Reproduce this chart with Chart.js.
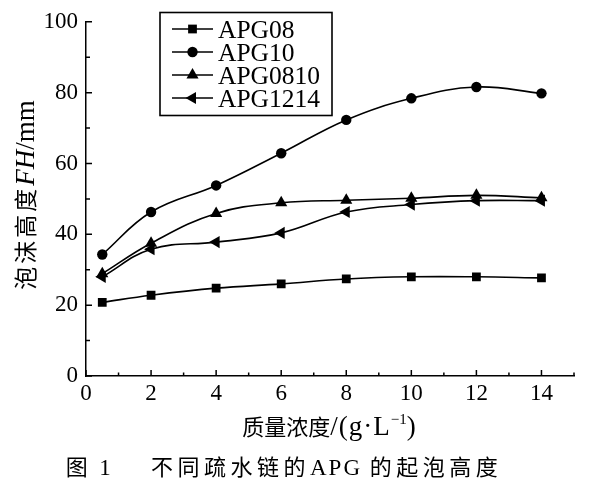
<!DOCTYPE html>
<html>
<head>
<meta charset="utf-8">
<script src="https://cdn.jsdelivr.net/npm/chart.js@4.4.1/dist/chart.umd.min.js"></script>
<style>
  html, body { margin: 0; padding: 0; background: #fff; }
  #wrap { width: 590px; height: 488px; position: relative; }
</style>
</head>
<body>
<div id="wrap"><canvas id="foam"></canvas></div>
<script>
// ─── Data ───────────────────────────────────────────────────────
const concentration = [0.5, 2, 4, 6, 8, 10, 12, 14];
const apg08   = [20.8, 22.8, 24.8, 26.0, 27.4, 28.0, 28.0, 27.7];
const apg10   = [34.3, 46.3, 53.8, 62.9, 72.3, 78.4, 81.6, 79.8];
const apg0810 = [28.9, 37.5, 45.9, 48.9, 49.6, 50.2, 51.0, 50.3];
const apg1214 = [28.0, 35.8, 37.8, 40.4, 46.3, 48.4, 49.5, 49.5];
const seriesNames = ["APG08", "APG10", "APG0810", "APG1214"];
const xRange = [0, 15];
const yRange = [0, 100];

const SERIF = '"Liberation Serif", "DejaVu Serif", serif';
const CJK = '"Noto Sans CJK SC", sans-serif';

const markers = [
  { pointStyle: "rect", radius: 6.2, rotation: 0 },
  { pointStyle: "circle", radius: 5.2, rotation: 0 },
  { pointStyle: "triangle", radius: 7, rotation: 0 },
  { pointStyle: "triangle", radius: 7, rotation: -90 },
];

const toPoints = (ys) => concentration.map((x, i) => ({ x, y: ys[i] }));

const datasets = [apg08, apg10, apg0810, apg1214].map((ys, i) => ({
  label: seriesNames[i],
  data: toPoints(ys),
  borderColor: "#000",
  backgroundColor: "#000",
  borderWidth: 1.6,
  tension: 0.4,
  pointStyle: markers[i].pointStyle,
  pointRadius: markers[i].radius,
  pointRotation: markers[i].rotation,
  pointBorderWidth: 0,
}));

// ─── Helpers ────────────────────────────────────────────────────
function drawRuns(ctx, runs, cx, baseline) {
  let total = 0;
  runs.forEach(r => {
    ctx.font = r.font;
    ctx.letterSpacing = (r.ls || 0) + "px";
    r.w = ctx.measureText(r.text).width;
    total += r.w;
  });
  let x = cx - total / 2;
  runs.forEach(r => {
    ctx.font = r.font;
    ctx.letterSpacing = (r.ls || 0) + "px";
    ctx.fillText(r.text, x, baseline + (r.dy || 0));
    x += r.w;
  });
  ctx.letterSpacing = "0px";
}

function marker(ctx, m, x, y) {
  if (Chart.helpers && Chart.helpers.drawPoint) {
    ctx.fillStyle = "#000";
    ctx.strokeStyle = "#000";
    ctx.lineWidth = 0;
    Chart.helpers.drawPoint(ctx, { pointStyle: m.pointStyle, radius: m.radius, rotation: m.rotation, borderWidth: 0 }, x, y);
  }
}

// ─── Plugin: inward ticks, legend, titles, caption ──────────────
const decorations = {
  id: "decorations",
  afterDatasetsDraw(chart) {
    const { ctx, chartArea: a, scales: { x, y } } = chart;
    ctx.save();
    ctx.strokeStyle = "#000";
    ctx.lineWidth = 1.5;

    // inward ticks
    ctx.beginPath();
    x.ticks.forEach(t => {
      const px = x.getPixelForValue(t.value);
      const len = t.value % 2 === 0 ? 6 : 3.5;
      ctx.moveTo(px, a.bottom);
      ctx.lineTo(px, a.bottom - len);
    });
    y.ticks.forEach(t => {
      const py = y.getPixelForValue(t.value);
      const len = t.value % 20 === 0 ? 6 : 4;
      ctx.moveTo(a.left, py);
      ctx.lineTo(a.left + len, py);
    });
    ctx.stroke();

    // legend box
    const box = { l: 160, t: 12.5, r: 332, b: 115.5 };
    ctx.lineWidth = 1.6;
    ctx.strokeRect(box.l, box.t, box.r - box.l, box.b - box.t);
    const rowY = [29, 52, 75, 98];
    ctx.fillStyle = "#000";
    ctx.textBaseline = "alphabetic";
    ctx.textAlign = "left";
    chart.data.datasets.forEach((ds, i) => {
      const yy = rowY[i];
      ctx.lineWidth = 1.6;
      ctx.beginPath();
      ctx.moveTo(172, yy);
      ctx.lineTo(213, yy);
      ctx.stroke();
      marker(ctx, markers[i], 192.5, yy);
      ctx.fillStyle = "#000";
      ctx.font = `25.5px ${SERIF}`;
      ctx.fillText(ds.label, 218, yy + 8.5);
    });

    // x title
    ctx.fillStyle = "#000";
    drawRuns(ctx, [
      { text: "质量浓度", font: `22px ${CJK}` },
      { text: "/(g·L", font: `27px ${SERIF}`, ls: 1 },
      { text: "−1", font: `15px ${SERIF}`, dy: -11 },
      { text: ")", font: `27px ${SERIF}` },
    ], 329, 435);

    // y title (rotated)
    ctx.save();
    ctx.translate(34, 195);
    ctx.rotate(-Math.PI / 2);
    drawRuns(ctx, [
      { text: "泡沫高度", font: `23px ${CJK}`, ls: 3 },
      { text: "FH", font: `italic 27px ${SERIF}` },
      { text: "/mm", font: `27px ${SERIF}` },
    ], 0, 0);
    ctx.restore();

    // caption
    drawRuns(ctx, [
      { text: "图", font: `22px ${CJK}` },
      { text: "  1", font: `23px ${SERIF}` },
      { text: "       ", font: `23px ${SERIF}` },
      { text: "不同疏水链的", font: `22px ${CJK}`, ls: 4.5 },
      { text: "APG ", font: `23px ${SERIF}`, ls: 2 },
      { text: "的起泡高度", font: `22px ${CJK}`, ls: 4.5 },
    ], 284, 475);

    ctx.restore();
  }
};

// ─── Chart ──────────────────────────────────────────────────────
new Chart(document.getElementById("foam").getContext("2d"), {
  type: "line",
  data: { datasets },
  plugins: [decorations],
  options: {
    responsive: true,
    maintainAspectRatio: false,
    animation: false,
    events: [],
    layout: { padding: { left: 0, top: 19, right: 16, bottom: 0 } },
    plugins: { legend: { display: false }, tooltip: { enabled: false } },
    scales: {
      x: {
        type: "linear",
        min: xRange[0], max: xRange[1],
        grid: { display: false, drawTicks: false },
        border: { display: true, color: "#000", width: 1.5 },
        ticks: {
          stepSize: 1, autoSkip: false, maxRotation: 0, padding: 4,
          color: "#000", font: { family: SERIF, size: 23 },
          callback: v => (v % 2 === 0 ? v : ""),
        },
        afterFit: s => { s.height = 112; },
      },
      y: {
        min: yRange[0], max: yRange[1],
        grid: { display: false, drawTicks: false },
        border: { display: true, color: "#000", width: 1.5 },
        ticks: {
          stepSize: 10, autoSkip: false, padding: 8,
          color: "#000", font: { family: SERIF, size: 23 },
          callback: v => (v % 20 === 0 ? v : ""),
        },
        afterFit: s => { s.width = 86; },
      },
    },
  },
});
</script>
</body>
</html>
